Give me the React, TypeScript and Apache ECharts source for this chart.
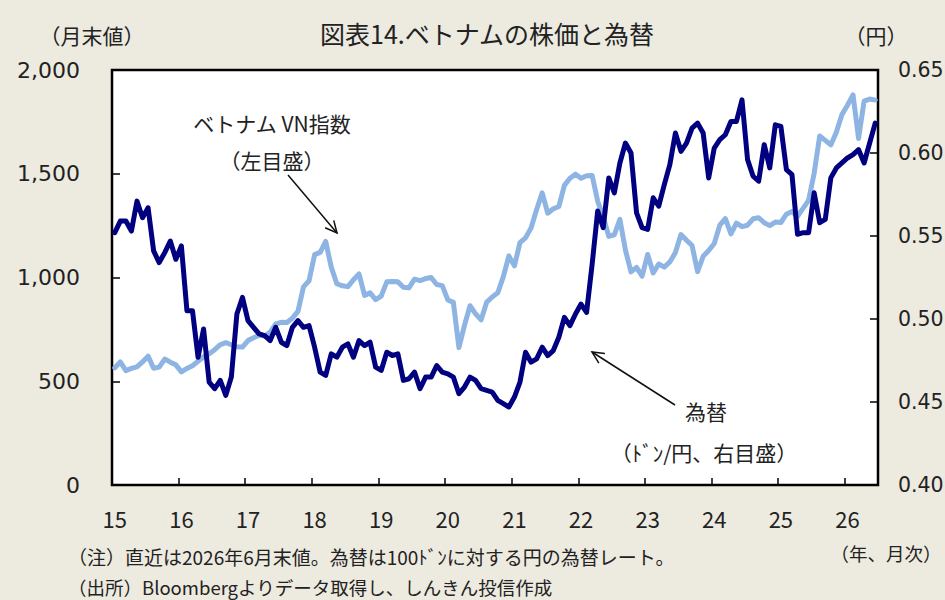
import React, { useEffect, useRef } from 'react';
import * as echarts from 'echarts';

// Year labels on the x axis (2-digit)
const yearLabels = ['15', '16', '17', '18', '19', '20', '21', '22', '23', '24', '25', '26'];

// Vietnam VN Index, month-end (left axis)
const vn2015 = [565, 593, 551, 562, 569, 593, 621, 563, 568, 607, 592, 579];
const vn2016 = [545, 562, 575, 596, 618, 632, 652, 676, 686, 676, 666, 665];
const vn2017 = [696, 710, 722, 718, 737, 776, 784, 783, 804, 837, 955, 984];
const vn2018 = [1110, 1121, 1174, 1050, 970, 960, 956, 989, 1017, 914, 926, 893];
const vn2019 = [910, 979, 981, 979, 953, 950, 992, 985, 995, 1000, 966, 961];
const vn2020 = [892, 880, 662, 769, 864, 825, 796, 881, 906, 926, 1004, 1104];
const vn2021 = [1056, 1168, 1191, 1239, 1328, 1408, 1310, 1331, 1342, 1444, 1478, 1498];
const vn2022 = [1478, 1490, 1492, 1367, 1293, 1198, 1206, 1280, 1132, 1027, 1049, 1007];
const vn2023 = [1111, 1022, 1065, 1050, 1075, 1120, 1207, 1180, 1154, 1028, 1102, 1130];
const vn2024 = [1164, 1252, 1284, 1210, 1262, 1245, 1252, 1283, 1288, 1264, 1250, 1267];
const vn2025 = [1265, 1305, 1318, 1295, 1333, 1372, 1503, 1682, 1661, 1639, 1700, 1785];
const vn2026 = [1830, 1880, 1670, 1850, 1860, 1855];

// JPY per 100 VND, month-end (right axis)
const fx2015 = [0.552, 0.559, 0.559, 0.553, 0.571, 0.561, 0.567, 0.541, 0.534, 0.540, 0.547, 0.536];
const fx2016 = [0.544, 0.505, 0.505, 0.477, 0.494, 0.462, 0.458, 0.463, 0.454, 0.465, 0.503, 0.513];
const fx2017 = [0.499, 0.495, 0.491, 0.490, 0.487, 0.495, 0.486, 0.484, 0.495, 0.499, 0.495, 0.496];
const fx2018 = [0.483, 0.468, 0.466, 0.479, 0.477, 0.483, 0.485, 0.477, 0.487, 0.484, 0.486, 0.471];
const fx2019 = [0.469, 0.480, 0.478, 0.479, 0.463, 0.464, 0.468, 0.458, 0.465, 0.465, 0.472, 0.468];
const fx2020 = [0.467, 0.465, 0.455, 0.459, 0.465, 0.463, 0.458, 0.457, 0.456, 0.451, 0.449, 0.447];
const fx2021 = [0.453, 0.462, 0.480, 0.474, 0.476, 0.483, 0.478, 0.481, 0.489, 0.501, 0.496, 0.503];
const fx2022 = [0.509, 0.504, 0.533, 0.565, 0.555, 0.585, 0.576, 0.594, 0.606, 0.600, 0.564, 0.555];
const fx2023 = [0.554, 0.573, 0.568, 0.581, 0.593, 0.612, 0.601, 0.606, 0.615, 0.618, 0.612, 0.585];
const fx2024 = [0.603, 0.608, 0.611, 0.619, 0.619, 0.632, 0.596, 0.586, 0.583, 0.605, 0.591, 0.617];
const fx2025 = [0.616, 0.590, 0.587, 0.551, 0.552, 0.552, 0.576, 0.558, 0.560, 0.585, 0.591, 0.594];
const fx2026 = [0.597, 0.599, 0.602, 0.594, 0.606, 0.618];

const leftTicks = { min: 0, max: 2000, interval: 500 };
const rightTicks = { min: 0.4, max: 0.65, interval: 0.05 };

const vnSeries = [
  ...vn2015, ...vn2016, ...vn2017, ...vn2018, ...vn2019, ...vn2020,
  ...vn2021, ...vn2022, ...vn2023, ...vn2024, ...vn2025, ...vn2026,
];
const fxSeries = [
  ...fx2015, ...fx2016, ...fx2017, ...fx2018, ...fx2019, ...fx2020,
  ...fx2021, ...fx2022, ...fx2023, ...fx2024, ...fx2025, ...fx2026,
];
const categories: string[] = [];
for (let i = 0; i < vnSeries.length; i++) {
  const y = yearLabels[Math.floor(i / 12)];
  const m = (i % 12) + 1;
  categories.push(`${y}/${m < 10 ? '0' + m : m}`);
}

const JP = '"Noto Sans CJK JP", "Noto Sans", sans-serif';
const NUM = '"DejaVu Sans", Verdana, sans-serif';
const TXT = '#222';

function arrow(x1: number, y1: number, x2: number, y2: number) {
  const ang = Math.atan2(y2 - y1, x2 - x1);
  const L = 13;
  const a = Math.PI / 7;
  const p1 = [x2 - L * Math.cos(ang - a), y2 - L * Math.sin(ang - a)];
  const p2 = [x2 - L * Math.cos(ang + a), y2 - L * Math.sin(ang + a)];
  return [
    { type: 'line', z: 100, shape: { x1, y1, x2, y2 }, style: { stroke: '#111', lineWidth: 1.5 } },
    { type: 'polyline', z: 100, shape: { points: [p1, [x2, y2], p2] }, style: { stroke: '#111', lineWidth: 1.5, fill: null } },
  ];
}

function txt(text: string, x: number, y: number, size: number, align = 'left', font = JP) {
  return {
    type: 'text',
    z: 100,
    x,
    y,
    style: {
      text,
      fill: TXT,
      font: `${size}px ${font}`,
      align,
      verticalAlign: 'middle',
    },
  };
}

export default function App() {
  const ref = useRef<HTMLDivElement>(null);
  useEffect(() => {
    if (!ref.current) return;
    const chart = echarts.init(ref.current, null, { renderer: 'svg' });
    const option: any = {
      animation: false,
      backgroundColor: '#EDEAE0',
      grid: {
        left: 112,
        right: 67,
        top: 70,
        bottom: 115,
        show: true,
        backgroundColor: '#ffffff',
        borderColor: '#000000',
        borderWidth: 2.5,
        containLabel: false,
        outerBoundsMode: 'none',
      },
      xAxis: {
        type: 'category',
        data: categories,
        boundaryGap: true,
        axisLine: { show: false },
        axisTick: {
          show: true,
          inside: true,
          length: 7,
          interval: (i: number) => i % 12 === 0,
          lineStyle: { color: '#000', width: 1.5 },
        },
        axisLabel: {
          interval: (i: number) => i % 12 === 0,
          formatter: (v: string) => v.split('/')[0],
          margin: 22,
          color: TXT,
          fontFamily: JP,
          fontSize: 22,
        },
        splitLine: { show: false },
      },
      yAxis: [
        {
          type: 'value',
          position: 'left',
          min: leftTicks.min,
          max: leftTicks.max,
          interval: leftTicks.interval,
          axisLine: { show: false },
          axisTick: { show: true, inside: true, length: 8, lineStyle: { color: '#000', width: 1.5 } },
          axisLabel: {
            margin: 32,
            color: TXT,
            fontFamily: NUM,
            fontSize: 22,
            formatter: (v: number) => v.toLocaleString('en-US'),
          },
          splitLine: { show: false },
        },
        {
          type: 'value',
          position: 'right',
          min: rightTicks.min,
          max: rightTicks.max,
          interval: rightTicks.interval,
          axisLine: { show: false },
          axisTick: { show: true, inside: true, length: 8, lineStyle: { color: '#000', width: 1.5 } },
          axisLabel: {
            margin: 20,
            color: TXT,
            fontFamily: NUM,
            fontSize: 20.5,
            formatter: (v: number) => v.toFixed(2),
          },
          splitLine: { show: false },
        },
      ],
      series: [
        {
          name: 'ベトナム VN指数',
          type: 'line',
          yAxisIndex: 0,
          data: vnSeries,
          symbol: 'none',
          lineStyle: { color: '#8DB4E2', width: 5, join: 'round', cap: 'round' },
          z: 2,
        },
        {
          name: '為替',
          type: 'line',
          yAxisIndex: 1,
          data: fxSeries,
          symbol: 'none',
          lineStyle: { color: '#000080', width: 5, join: 'round', cap: 'round' },
          z: 3,
        },
      ],
      graphic: [
        txt('図表14.ベトナムの株価と為替', 487, 33, 25, 'center'),
        txt('（月末値）', 92, 35, 21, 'center'),
        txt('（円）', 876, 35, 21, 'center'),
        txt('ベトナム VN指数', 272, 123, 21, 'center'),
        txt('（左目盛）', 272, 160, 21, 'center'),
        txt('為替', 706, 411, 21, 'center'),
        txt('（ﾄﾞﾝ/円、右目盛）', 704, 452, 21, 'center'),
        txt('（年、月次）', 886, 553, 18.5, 'center'),
        txt('（注）直近は2026年6月末値。為替は100ﾄﾞﾝに対する円の為替レート。', 68, 556, 19, 'left'),
        txt('（出所）Bloombergよりデータ取得し、しんきん投信作成', 68, 587, 18.5, 'left'),
        ...arrow(288, 175, 337, 233),
        ...arrow(675, 405, 592, 352),
      ],
    };
    chart.setOption(option);
    return () => chart.dispose();
  }, []);
  return <div ref={ref} style={{ position: 'fixed', left: 0, top: 0, width: 945, height: 600 }} />;
}
